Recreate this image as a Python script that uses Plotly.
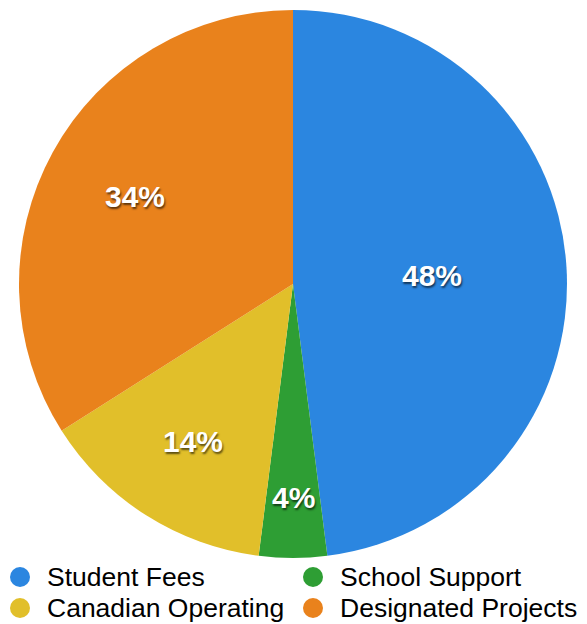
import math
import plotly.graph_objects as go

categories = ["Student Fees", "School Support", "Canadian Operating", "Designated Projects"]
values = [48, 4, 14, 34]
colors = ["#2b86e0", "#2e9e34", "#e1bf2a", "#e9821c"]
label_radius = [0.51, 0.78, 0.68, 0.66]  # radial placement of the % labels (fraction of radius)

W, H = 587, 624
cx_px, cy_px, R_px = 293, 284, 274

fig = go.Figure()
fig.add_trace(go.Pie(
    labels=categories,
    values=values,
    sort=False,
    direction="clockwise",
    rotation=0,
    marker=dict(colors=colors, line=dict(width=0)),
    textposition="none",
    showlegend=False,
    hoverinfo="label+percent",
    domain=dict(x=[(cx_px - R_px) / W, (cx_px + R_px) / W],
                y=[1 - (cy_px + R_px) / H, 1 - (cy_px - R_px) / H]),
))

total = sum(values)
cum = 0
for v, f in zip(values, label_radius):
    mid = (cum + v / 2) / total * 2 * math.pi
    cum += v
    x = (cx_px + f * R_px * math.sin(mid)) / W
    y = 1 - (cy_px - f * R_px * math.cos(mid)) / H
    fig.add_annotation(
        x=x, y=y, xref="paper", yref="paper", showarrow=False,
        xanchor="center", yanchor="middle",
        text=f"{round(v / total * 100)}%",
        font=dict(family="Liberation Sans", size=30, color="white", weight="bold",
                  shadow="1px 2px 2px rgba(0,0,0,0.6)"),
    )

# Two-column legend at the bottom (layout positions in pixels)
col_x = [20, 313]
row_y = [577, 608]
dot_r = 10
for i, (name, col) in enumerate(zip(categories, colors)):
    mx = col_x[i % 2]
    my = row_y[i // 2]
    fig.add_shape(
        type="circle", xref="paper", yref="paper",
        x0=(mx - dot_r) / W, x1=(mx + dot_r) / W,
        y0=1 - (my + dot_r) / H, y1=1 - (my - dot_r) / H,
        fillcolor=col, line=dict(width=0),
    )
    fig.add_annotation(
        x=(mx + 25) / W, y=1 - my / H, xref="paper", yref="paper",
        xanchor="left", yanchor="middle", showarrow=False,
        text=name,
        font=dict(family="Liberation Sans", size=26.5, color="black"),
    )

fig.update_layout(
    width=W, height=H,
    margin=dict(l=0, r=0, t=0, b=0),
    paper_bgcolor="white", plot_bgcolor="white",
    showlegend=False,
)

fig.write_html("out.html", config={"displayModeBar": False},
               post_script="document.body.style.margin='0px';")
